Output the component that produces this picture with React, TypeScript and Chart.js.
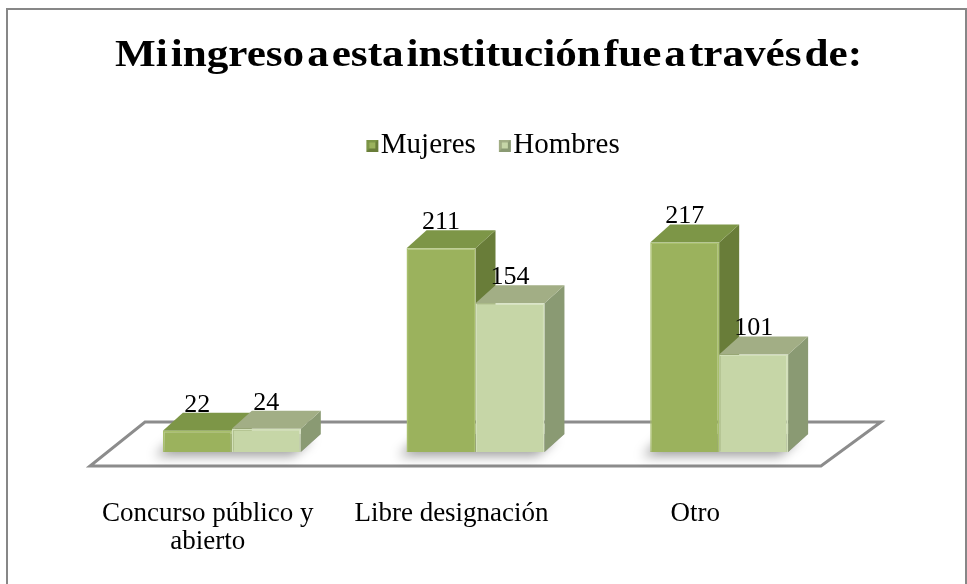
import React, { useEffect, useRef } from 'react';
import { Chart, registerables } from 'chart.js';

Chart.register(...registerables);

const titleText = 'Mi ingreso a esta institución fue a través de:';
const categories: (string | string[])[] = [['Concurso público y', 'abierto'], 'Libre designación', 'Otro'];
const seriesNames = ['Mujeres', 'Hombres'];
const mujeres = [22, 211, 217];
const hombres = [24, 154, 101];
const yMax = 292;

const FRONT = ['#9BB25D', '#C6D6A7'];
const EDGE = ['#A9C06D', '#D2E0B9'];
const TOP = ['#7D9647', '#A2AE85'];
const SIDE = ['#697D39', '#8A9A73'];
const DX = 20;
const DY = -18;
const FONT = '"Liberation Serif", "Times New Roman", serif';

function legendSquare(i: number): HTMLCanvasElement {
  const c = document.createElement('canvas');
  c.width = 30;
  c.height = 12;
  const g = c.getContext('2d')!;
  const o = 16;
  g.fillStyle = SIDE[i];
  g.fillRect(o, 0, 12, 12);
  g.fillStyle = TOP[i];
  g.beginPath();
  g.moveTo(o, 0); g.lineTo(o + 12, 0); g.lineTo(o + 9, 3); g.lineTo(o + 3, 3); g.closePath();
  g.fill();
  g.beginPath();
  g.moveTo(o, 0); g.lineTo(o + 3, 3); g.lineTo(o + 3, 9); g.lineTo(o, 12); g.closePath();
  g.fill();
  g.fillStyle = FRONT[i];
  g.fillRect(o + 3, 3, 6, 6);
  return c;
}

const threeD = {
  id: 'threeD',
  beforeDatasetsDraw(chart: any) {
    const { ctx, chartArea } = chart;
    const { left, right, bottom } = chartArea;
    ctx.save();
    // floor
    ctx.beginPath();
    ctx.moveTo(left - 20, bottom + 14);
    ctx.lineTo(right - 20, bottom + 14);
    ctx.lineTo(right + 40, bottom - 30);
    ctx.lineTo(left + 35, bottom - 30);
    ctx.closePath();
    ctx.fillStyle = '#FFFFFF';
    ctx.fill();
    ctx.lineWidth = 3;
    ctx.strokeStyle = '#8C8C8C';
    ctx.stroke();

    const m0 = chart.getDatasetMeta(0).data;
    const m1 = chart.getDatasetMeta(1).data;
    // shadows
    for (let j = 0; j < m0.length; j++) {
      const a = m0[j];
      const b = m1[j];
      const x0 = a.x - a.width / 2;
      const x1 = b.x + b.width / 2;
      const yb = a.base;
      ctx.save();
      ctx.shadowColor = 'rgba(0,0,0,0.55)';
      ctx.shadowBlur = 12;
      ctx.shadowOffsetX = -8;
      ctx.shadowOffsetY = 4;
      ctx.fillStyle = 'rgba(140,140,140,0.7)';
      ctx.beginPath();
      ctx.moveTo(x0, yb);
      ctx.lineTo(x1, yb);
      ctx.lineTo(x1 + DX, yb + DY);
      ctx.lineTo(x0 + DX, yb + DY);
      ctx.closePath();
      ctx.fill();
      ctx.restore();
    }
    // side and top faces
    for (let j = 0; j < m0.length; j++) {
      [m0[j], m1[j]].forEach((el: any, i: number) => {
        const x0 = el.x - el.width / 2;
        const x1 = el.x + el.width / 2;
        const yt = el.y;
        const yb = el.base;
        ctx.fillStyle = SIDE[i];
        ctx.beginPath();
        ctx.moveTo(x1, yt);
        ctx.lineTo(x1 + DX, yt + DY);
        ctx.lineTo(x1 + DX, yb + DY);
        ctx.lineTo(x1, yb);
        ctx.closePath();
        ctx.fill();
        ctx.fillStyle = TOP[i];
        ctx.beginPath();
        ctx.moveTo(x0, yt);
        ctx.lineTo(x1, yt);
        ctx.lineTo(x1 + DX, yt + DY);
        ctx.lineTo(x0 + DX, yt + DY);
        ctx.closePath();
        ctx.fill();
      });
    }
    ctx.restore();
  },
  afterDatasetsDraw(chart: any) {
    const { ctx } = chart;
    ctx.save();
    ctx.font = `26px ${FONT}`;
    ctx.fillStyle = '#000000';
    ctx.textAlign = 'center';
    ctx.textBaseline = 'alphabetic';
    chart.data.datasets.forEach((ds: any, i: number) => {
      chart.getDatasetMeta(i).data.forEach((el: any, j: number) => {
        ctx.fillText(String(ds.data[j]), el.x, el.y + DY - 1);
      });
    });
    ctx.restore();
  },
  afterDraw(chart: any) {
    const { ctx } = chart;
    ctx.save();
    // border
    ctx.strokeStyle = '#878787';
    ctx.lineWidth = 2;
    ctx.strokeRect(7, 9, 959, 700);
    // title
    ctx.font = `bold 38px ${FONT}`;
    ctx.fillStyle = '#000000';
    ctx.textAlign = 'left';
    ctx.textBaseline = 'alphabetic';
    const words = titleText.split(' ');
    const widths = words.map((w) => ctx.measureText(w).width);
    const sum = widths.reduce((s, w) => s + w, 0);
    const gap = 3;
    const total = 747;
    const sx = (total - gap * (words.length - 1)) / sum;
    let x = 488.5 - total / 2;
    words.forEach((w, k) => {
      ctx.save();
      ctx.translate(x, 66);
      ctx.scale(sx, 1);
      ctx.fillText(w, 0, 0);
      ctx.restore();
      x += widths[k] * sx + gap;
    });
    ctx.restore();
  },
};

export default function App() {
  const ref = useRef<HTMLCanvasElement>(null);
  useEffect(() => {
    if (!ref.current) return;
    Chart.defaults.font.family = FONT;
    const squares = [legendSquare(0), legendSquare(1)];
    const chart = new Chart(ref.current, {
      type: 'bar',
      data: {
        labels: categories,
        datasets: [
          {
            label: seriesNames[0],
            data: mujeres,
            backgroundColor: FRONT[0],
            borderColor: EDGE[0],
            borderWidth: 1.5,
            categoryPercentage: 0.566,
            barPercentage: 1.0,
          },
          {
            label: seriesNames[1],
            data: hombres,
            backgroundColor: FRONT[1],
            borderColor: EDGE[1],
            borderWidth: 1.5,
            categoryPercentage: 0.566,
            barPercentage: 1.0,
          },
        ],
      },
      options: {
        responsive: false,
        animation: false,
        events: [],
        layout: { padding: { top: 110, left: 110, right: 93, bottom: 0 } },
        plugins: {
          title: { display: false },
          tooltip: { enabled: false },
          legend: {
            display: true,
            position: 'top',
            labels: {
              color: '#000000',
              font: { family: FONT, size: 29 },
              usePointStyle: true,
              pointStyleWidth: 2,
              boxWidth: 2,
              boxHeight: 12,
              padding: 21,
              generateLabels: (ch: any) =>
                Chart.defaults.plugins.legend.labels
                  .generateLabels(ch)
                  .map((l: any, i: number) => ({ ...l, pointStyle: squares[i], lineWidth: 0 })),
            },
          },
        },
        scales: {
          x: {
            grid: { display: false, drawTicks: false },
            border: { display: false },
            ticks: {
              color: '#000000',
              font: { family: FONT, size: 27, lineHeight: 1.07 },
              padding: 47,
              labelOffset: -24,
              maxRotation: 0,
              autoSkip: false,
            },
            afterFit: (s: any) => {
              s.height = 132;
            },
          },
          y: {
            position: 'right',
            min: 0,
            max: yMax,
            grid: { display: false, drawTicks: false },
            border: { display: false },
            ticks: { display: false },
            afterFit: (s: any) => {
              s.width = 33;
            },
          },
        },
      },
      plugins: [threeD],
    } as any);
    return () => chart.destroy();
  }, []);
  return (
    <div style={{ position: 'absolute', left: 0, top: 0, width: 967, height: 584, background: '#FFFFFF' }}>
      <canvas ref={ref} width={967} height={584} style={{ display: 'block', width: 967, height: 584 }} />
    </div>
  );
}
